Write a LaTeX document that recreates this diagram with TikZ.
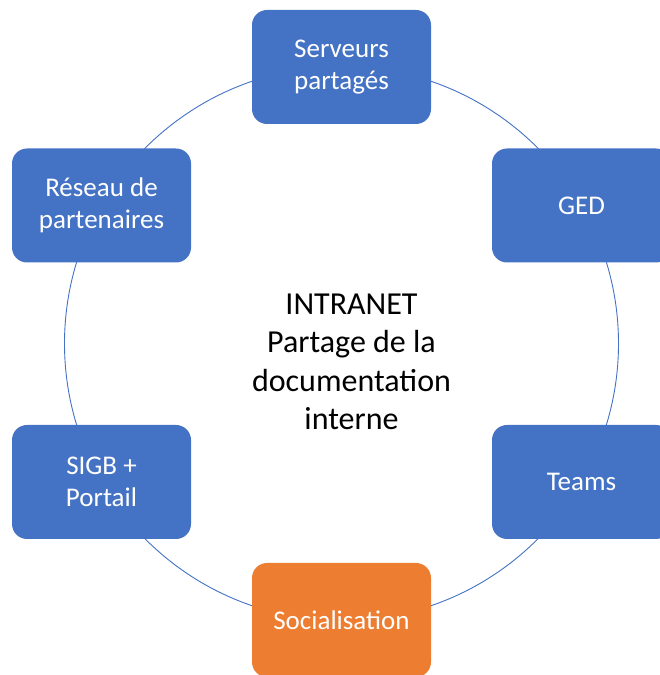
\documentclass[tikz,border=0pt]{standalone}
\usepackage{fontspec}
\setmainfont{Carlito}
\definecolor{obl}{HTML}{4472C4}
\definecolor{oor}{HTML}{ED7D31}
\begin{document}
\begin{tikzpicture}[x=1pt,y=1pt,
  boxnode/.style={fill=obl, rounded corners=15pt, minimum width=179pt, minimum height=114pt,
    text=white, align=center, inner sep=0pt, font=\fontsize{27}{32.4}\selectfont},
  ring/.style={draw=obl, line width=0.9pt}]
\useasboundingbox (0,0) rectangle (659,675);
\coordinate (c) at (341.5,331.5);
\draw[ring] (c) circle (277);
\node[boxnode] (srv) at (341.5,608) {Serveurs\\partagés};
\node[boxnode] (ged) at (581.5,469.5) {GED};
\node[boxnode] (teams) at (581.5,193) {Teams};
\node[boxnode, fill=oor] (soc) at (341.5,55) {Socialisation};
\node[boxnode] (sigb) at (101.5,193) {SIGB +\\Portail};
\node[boxnode] (res) at (101.5,469.5) {Réseau de\\partenaires};
\node[align=center, font=\fontsize{32}{38.4}\selectfont, inner sep=0pt] (mid) at (351.5,313)
  {INTRANET\\Partage de la\\documentation\\interne};
\end{tikzpicture}
\end{document}
